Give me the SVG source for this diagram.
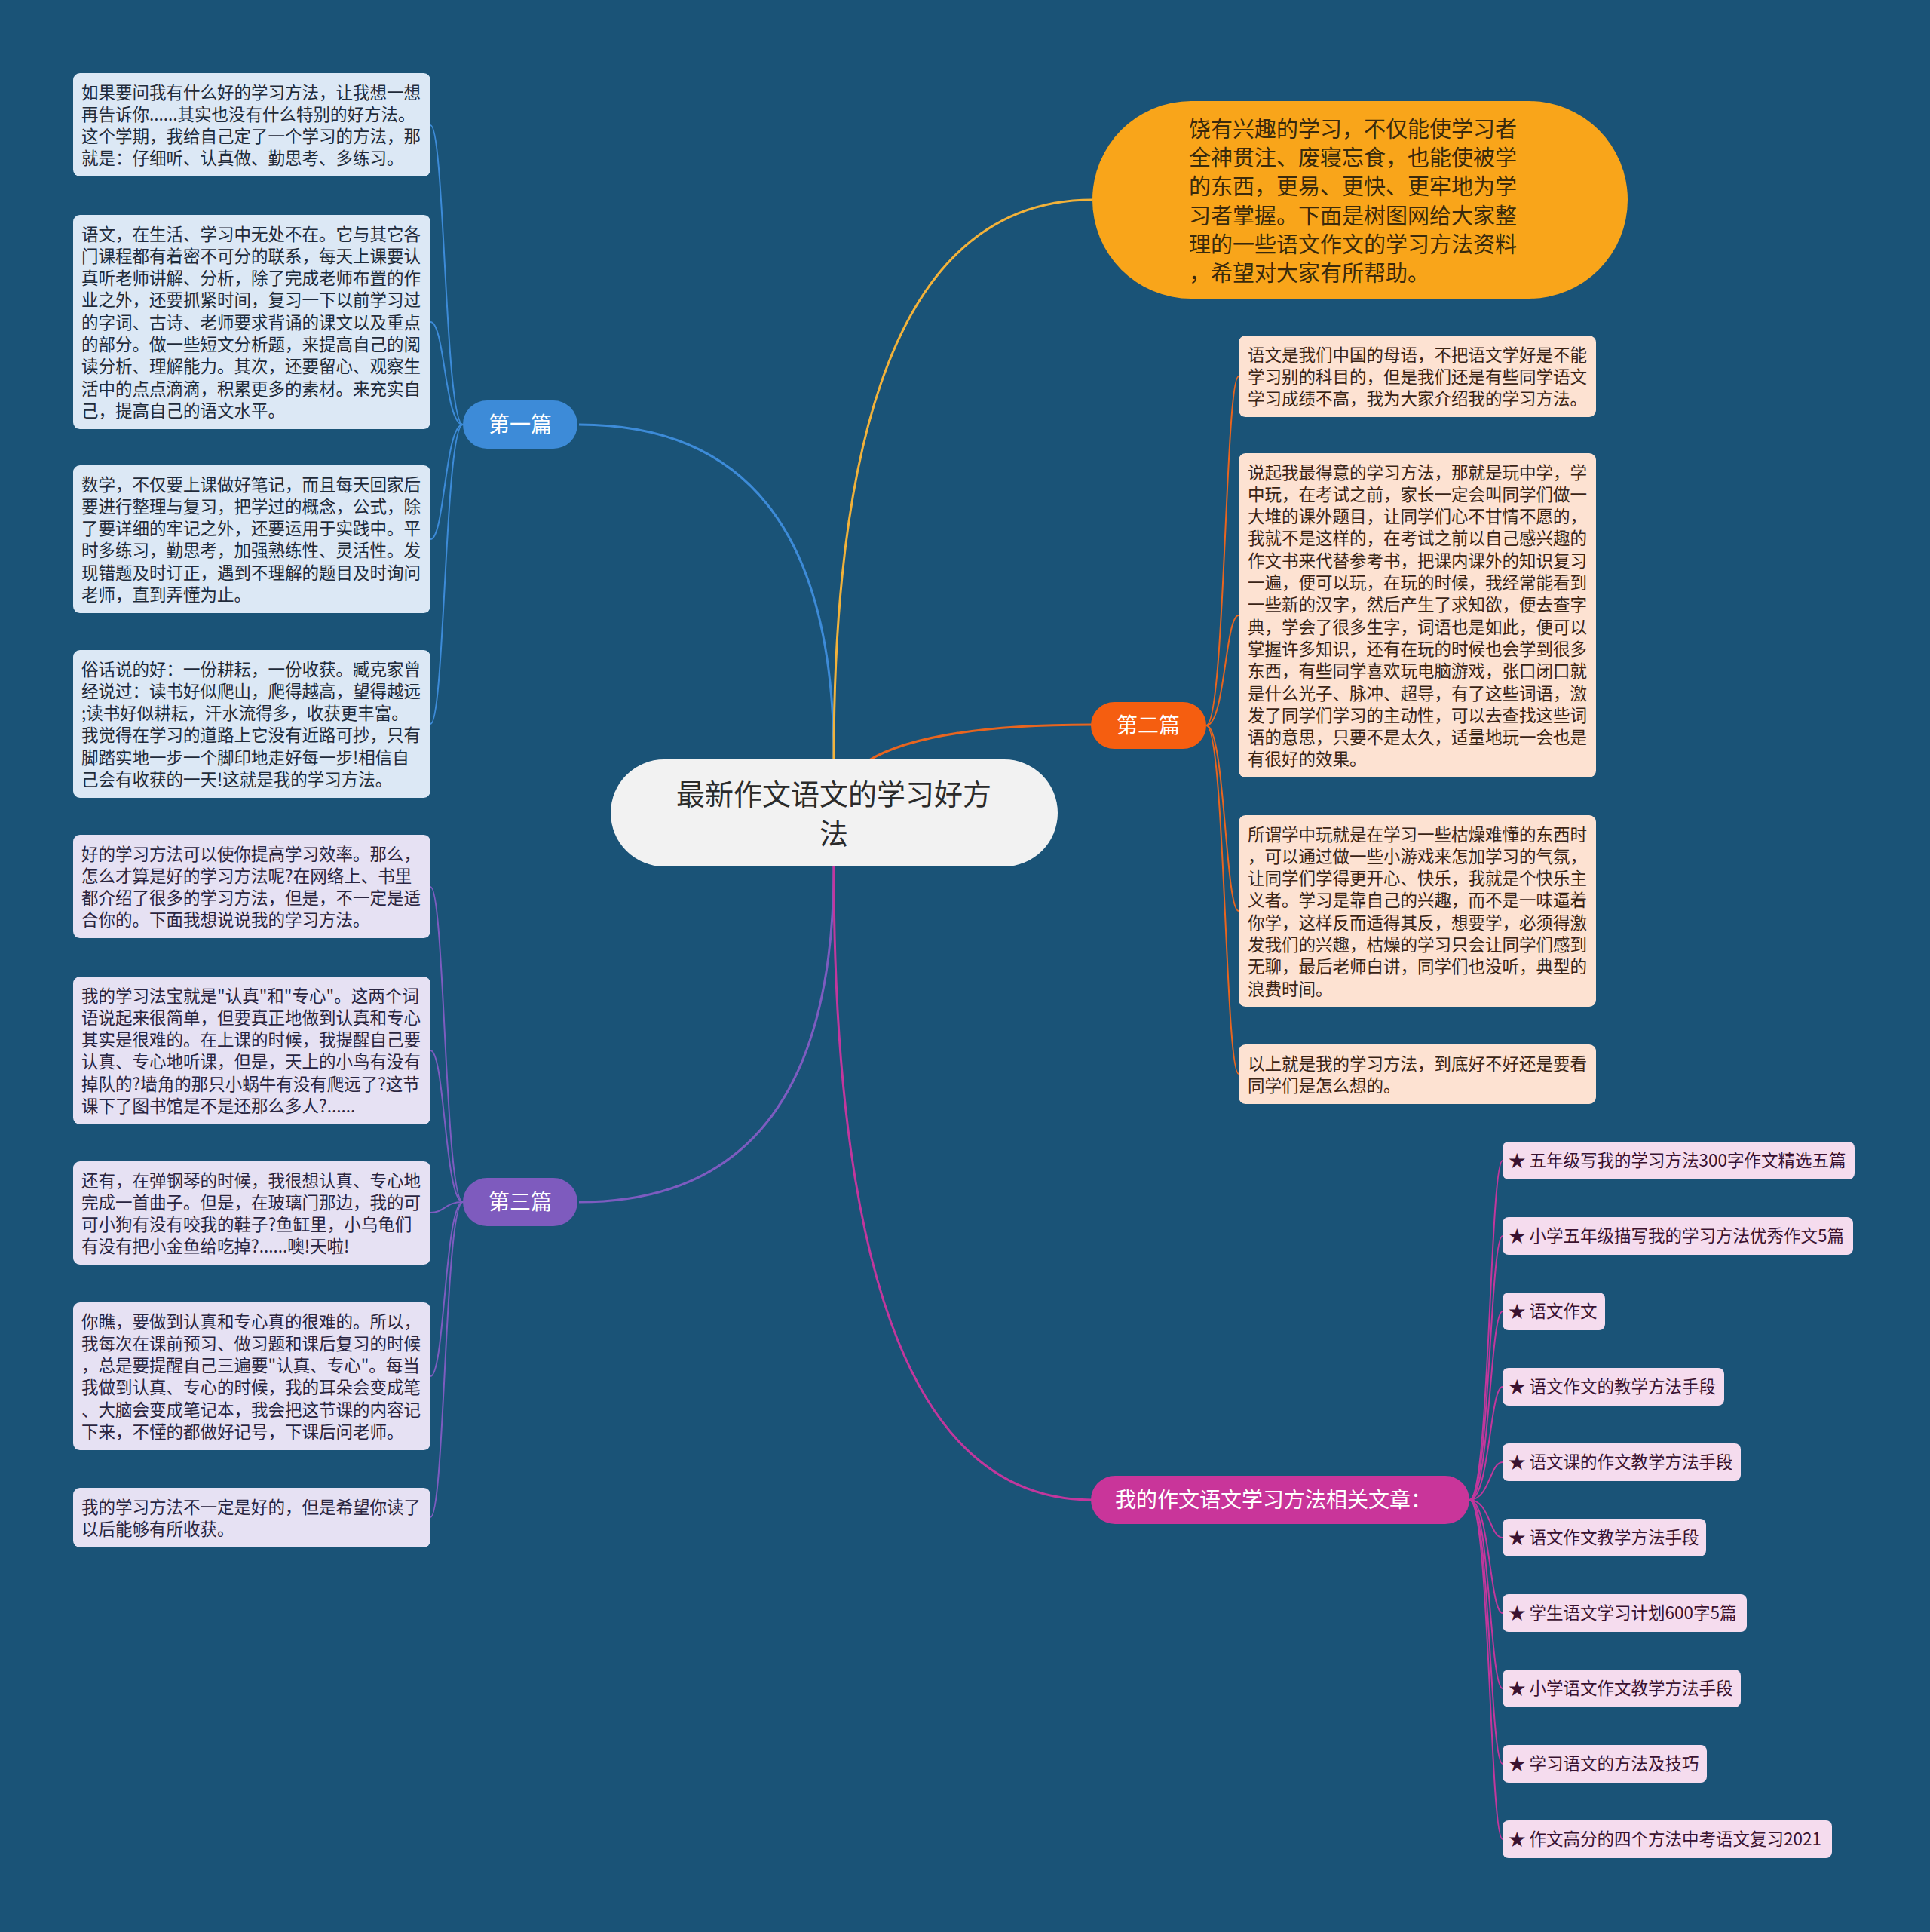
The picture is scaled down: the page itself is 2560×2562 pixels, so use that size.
<svg xmlns="http://www.w3.org/2000/svg" width="2560" height="2562" viewBox="0 0 2560 2562">
<style>
text{font-family:"Noto Sans CJK SC","Noto Sans",sans-serif;}
.bx{font-size:22.5px;}
.blue rect{fill:#DCE8F5;}
.blue text{fill:#1F2B3A;}
.lav rect{fill:#E6E1F3;}
.lav text{fill:#2A2540;}
.pea rect{fill:#FDE2D2;}
.pea text{fill:#3A2415;}
.itm rect{fill:#F5DCEE;}
.itm text{fill:#3A1230;font-size:22.5px;}
.sh{fill:#123F5E;}
.lbl{font-size:28px;fill:#FFFFFF;}
.cn path{fill:none;}
</style>
<rect x="0" y="0" width="2560" height="2562" fill="#1A5377"/>

<g id="connectors" class="cn">
  <path d="M1106,1006 Q1106,563 768,563" stroke="#3D8BD8" stroke-width="3"/>
  <path d="M1106,1006 Q1106,265 1449,265" stroke="#F2B23A" stroke-width="3"/>
  <path d="M1151,1009 Q1230,961 1448,961" stroke="#E8651F" stroke-width="3"/>
  <path d="M1106,1149 Q1106,1594 768,1594" stroke="#7D5CC0" stroke-width="3"/>
  <path d="M1106,1149 Q1106,1989 1448,1989" stroke="#C2379D" stroke-width="3"/>

  <g stroke="#3D8BD8" stroke-width="2">
    <path d="M614,563 C590,563 590,166 571,166"/>
    <path d="M614,563 C590,563 590,427 571,427"/>
    <path d="M614,563 C590,563 590,715 571,715"/>
    <path d="M614,563 C590,563 590,960 571,960"/>
  </g>
  <g stroke="#7D5CC0" stroke-width="2">
    <path d="M614,1594 C590,1594 590,1176 571,1176"/>
    <path d="M614,1594 C590,1594 590,1393 571,1393"/>
    <path d="M614,1594 C590,1594 590,1608 571,1608"/>
    <path d="M614,1594 C590,1594 590,1825 571,1825"/>
    <path d="M614,1594 C590,1594 590,2012 571,2012"/>
  </g>
  <g stroke="#E8651F" stroke-width="2">
    <path d="M1600,962 C1625,962 1625,499 1643,499"/>
    <path d="M1600,962 C1625,962 1625,816 1643,816"/>
    <path d="M1600,962 C1625,962 1625,1208 1643,1208"/>
    <path d="M1600,962 C1625,962 1625,1424 1643,1424"/>
  </g>
  <g stroke="#C2379D" stroke-width="2">
    <path d="M1949,1989 C1976,1989 1976,1539 1993,1539"/>
    <path d="M1949,1989 C1976,1989 1976,1639 1993,1639"/>
    <path d="M1949,1989 C1976,1989 1976,1739 1993,1739"/>
    <path d="M1949,1989 C1976,1989 1976,1839 1993,1839"/>
    <path d="M1949,1989 C1976,1989 1976,1939 1993,1939"/>
    <path d="M1949,1989 C1976,1989 1976,2039 1993,2039"/>
    <path d="M1949,1989 C1976,1989 1976,2139 1993,2139"/>
    <path d="M1949,1989 C1976,1989 1976,2239 1993,2239"/>
    <path d="M1949,1989 C1976,1989 1976,2339 1993,2339"/>
    <path d="M1949,1989 C1976,1989 1976,2439 1993,2439"/>
  </g>
</g>

<g id="central">
  <rect x="810" y="1007" width="593" height="142" rx="71" fill="#F2F2F2"/>
  <text x="1106" y="1067" text-anchor="middle" font-size="38" fill="#2B2B2B">最新作文语文的学习好方</text>
  <text x="1106" y="1119" text-anchor="middle" font-size="38" fill="#2B2B2B">法</text>
</g>

<g id="intro">
  <rect x="1449" y="134" width="710" height="262" rx="131" fill="#F9A51A"/>
  <text font-size="29" fill="#3A2A0C">
    <tspan x="1577" y="182">饶有兴趣的学习，不仅能使学习者</tspan>
    <tspan x="1577" y="220">全神贯注、废寝忘食，也能使被学</tspan>
    <tspan x="1577" y="258">的东西，更易、更快、更牢地为学</tspan>
    <tspan x="1577" y="297">习者掌握。下面是树图网给大家整</tspan>
    <tspan x="1577" y="335">理的一些语文作文的学习方法资料</tspan>
    <tspan x="1577" y="373">，希望对大家有所帮助。</tspan>
  </text>
</g>

<g id="b1">
  <rect x="614" y="531" width="152" height="64" rx="32" fill="#3D8BD8"/>
  <text class="lbl" x="690" y="573" text-anchor="middle">第一篇</text>
</g>
<g id="b2">
  <rect x="1447" y="931" width="153" height="62" rx="31" fill="#F55E10"/>
  <text class="lbl" x="1523" y="972" text-anchor="middle">第二篇</text>
</g>
<g id="b3">
  <rect x="614" y="1562" width="152" height="64" rx="32" fill="#7E5BBE"/>
  <text class="lbl" x="690" y="1604" text-anchor="middle">第三篇</text>
</g>
<g id="b4">
  <rect x="1447" y="1957" width="502" height="64" rx="32" fill="#C9359A"/>
  <text class="lbl" x="1479" y="1999">我的作文语文学习方法相关文章：</text>
</g>

<g id="b1c1" class="blue">
  <rect x="97" y="97" width="474" height="137" rx="9"/>
  <text class="bx"><tspan x="108" y="130.5">如果要问我有什么好的学习方法，让我想一想</tspan><tspan x="108" dy="29.3">再告诉你......其实也没有什么特别的好方法。</tspan><tspan x="108" dy="29.3">这个学期，我给自己定了一个学习的方法，那</tspan><tspan x="108" dy="29.3">就是：仔细听、认真做、勤思考、多练习。</tspan></text>
</g>
<g id="b1c2" class="blue">
  <rect x="97" y="285" width="474" height="284" rx="9"/>
  <text class="bx"><tspan x="108" y="318.5">语文，在生活、学习中无处不在。它与其它各</tspan><tspan x="108" dy="29.3">门课程都有着密不可分的联系，每天上课要认</tspan><tspan x="108" dy="29.3">真听老师讲解、分析，除了完成老师布置的作</tspan><tspan x="108" dy="29.3">业之外，还要抓紧时间，复习一下以前学习过</tspan><tspan x="108" dy="29.3">的字词、古诗、老师要求背诵的课文以及重点</tspan><tspan x="108" dy="29.3">的部分。做一些短文分析题，来提高自己的阅</tspan><tspan x="108" dy="29.3">读分析、理解能力。其次，还要留心、观察生</tspan><tspan x="108" dy="29.3">活中的点点滴滴，积累更多的素材。来充实自</tspan><tspan x="108" dy="29.3">己，提高自己的语文水平。</tspan></text>
</g>
<g id="b1c3" class="blue">
  <rect x="97" y="617" width="474" height="196" rx="9"/>
  <text class="bx"><tspan x="108" y="650.5">数学，不仅要上课做好笔记，而且每天回家后</tspan><tspan x="108" dy="29.3">要进行整理与复习，把学过的概念，公式，除</tspan><tspan x="108" dy="29.3">了要详细的牢记之外，还要运用于实践中。平</tspan><tspan x="108" dy="29.3">时多练习，勤思考，加强熟练性、灵活性。发</tspan><tspan x="108" dy="29.3">现错题及时订正，遇到不理解的题目及时询问</tspan><tspan x="108" dy="29.3">老师，直到弄懂为止。</tspan></text>
</g>
<g id="b1c4" class="blue">
  <rect x="97" y="862" width="474" height="196" rx="9"/>
  <text class="bx"><tspan x="108" y="895.5">俗话说的好：一份耕耘，一份收获。臧克家曾</tspan><tspan x="108" dy="29.3">经说过：读书好似爬山，爬得越高，望得越远</tspan><tspan x="108" dy="29.3">;读书好似耕耘，汗水流得多，收获更丰富。</tspan><tspan x="108" dy="29.3">我觉得在学习的道路上它没有近路可抄，只有</tspan><tspan x="108" dy="29.3">脚踏实地一步一个脚印地走好每一步!相信自</tspan><tspan x="108" dy="29.3">己会有收获的一天!这就是我的学习方法。</tspan></text>
</g>

<g id="b3c1" class="lav">
  <rect x="97" y="1107" width="474" height="137" rx="9"/>
  <text class="bx"><tspan x="108" y="1140.5">好的学习方法可以使你提高学习效率。那么，</tspan><tspan x="108" dy="29.3">怎么才算是好的学习方法呢?在网络上、书里</tspan><tspan x="108" dy="29.3">都介绍了很多的学习方法，但是，不一定是适</tspan><tspan x="108" dy="29.3">合你的。下面我想说说我的学习方法。</tspan></text>
</g>
<g id="b3c2" class="lav">
  <rect x="97" y="1295" width="474" height="196" rx="9"/>
  <text class="bx"><tspan x="108" y="1328.5">我的学习法宝就是"认真"和"专心"。这两个词</tspan><tspan x="108" dy="29.3">语说起来很简单，但要真正地做到认真和专心</tspan><tspan x="108" dy="29.3">其实是很难的。在上课的时候，我提醒自己要</tspan><tspan x="108" dy="29.3">认真、专心地听课，但是，天上的小鸟有没有</tspan><tspan x="108" dy="29.3">掉队的?墙角的那只小蜗牛有没有爬远了?这节</tspan><tspan x="108" dy="29.3">课下了图书馆是不是还那么多人?......</tspan></text>
</g>
<g id="b3c3" class="lav">
  <rect x="97" y="1540" width="474" height="137" rx="9"/>
  <text class="bx"><tspan x="108" y="1573.5">还有，在弹钢琴的时候，我很想认真、专心地</tspan><tspan x="108" dy="29.3">完成一首曲子。但是，在玻璃门那边，我的可</tspan><tspan x="108" dy="29.3">可小狗有没有咬我的鞋子?鱼缸里，小乌龟们</tspan><tspan x="108" dy="29.3">有没有把小金鱼给吃掉?......噢!天啦!</tspan></text>
</g>
<g id="b3c4" class="lav">
  <rect x="97" y="1727" width="474" height="196" rx="9"/>
  <text class="bx"><tspan x="108" y="1760.5">你瞧，要做到认真和专心真的很难的。所以，</tspan><tspan x="108" dy="29.3">我每次在课前预习、做习题和课后复习的时候</tspan><tspan x="108" dy="29.3">，总是要提醒自己三遍要"认真、专心"。每当</tspan><tspan x="108" dy="29.3">我做到认真、专心的时候，我的耳朵会变成笔</tspan><tspan x="108" dy="29.3">、大脑会变成笔记本，我会把这节课的内容记</tspan><tspan x="108" dy="29.3">下来，不懂的都做好记号，下课后问老师。</tspan></text>
</g>
<g id="b3c5" class="lav">
  <rect x="97" y="1973" width="474" height="79" rx="9"/>
  <text class="bx"><tspan x="108" y="2006.5">我的学习方法不一定是好的，但是希望你读了</tspan><tspan x="108" dy="29.3">以后能够有所收获。</tspan></text>
</g>

<g id="b2c1" class="pea">
  <rect x="1643" y="445" width="474" height="108" rx="9"/>
  <text class="bx"><tspan x="1655" y="478.5">语文是我们中国的母语，不把语文学好是不能</tspan><tspan x="1655" dy="29.3">学习别的科目的，但是我们还是有些同学语文</tspan><tspan x="1655" dy="29.3">学习成绩不高，我为大家介绍我的学习方法。</tspan></text>
</g>
<g id="b2c2" class="pea">
  <rect x="1643" y="601" width="474" height="430" rx="9"/>
  <text class="bx"><tspan x="1655" y="634.5">说起我最得意的学习方法，那就是玩中学，学</tspan><tspan x="1655" dy="29.3">中玩，在考试之前，家长一定会叫同学们做一</tspan><tspan x="1655" dy="29.3">大堆的课外题目，让同学们心不甘情不愿的，</tspan><tspan x="1655" dy="29.3">我就不是这样的，在考试之前以自己感兴趣的</tspan><tspan x="1655" dy="29.3">作文书来代替参考书，把课内课外的知识复习</tspan><tspan x="1655" dy="29.3">一遍，便可以玩，在玩的时候，我经常能看到</tspan><tspan x="1655" dy="29.3">一些新的汉字，然后产生了求知欲，便去查字</tspan><tspan x="1655" dy="29.3">典，学会了很多生字，词语也是如此，便可以</tspan><tspan x="1655" dy="29.3">掌握许多知识，还有在玩的时候也会学到很多</tspan><tspan x="1655" dy="29.3">东西，有些同学喜欢玩电脑游戏，张口闭口就</tspan><tspan x="1655" dy="29.3">是什么光子、脉冲、超导，有了这些词语，激</tspan><tspan x="1655" dy="29.3">发了同学们学习的主动性，可以去查找这些词</tspan><tspan x="1655" dy="29.3">语的意思，只要不是太久，适量地玩一会也是</tspan><tspan x="1655" dy="29.3">有很好的效果。</tspan></text>
</g>
<g id="b2c3" class="pea">
  <rect x="1643" y="1081" width="474" height="254" rx="9"/>
  <text class="bx"><tspan x="1655" y="1114.5">所谓学中玩就是在学习一些枯燥难懂的东西时</tspan><tspan x="1655" dy="29.3">，可以通过做一些小游戏来怎加学习的气氛，</tspan><tspan x="1655" dy="29.3">让同学们学得更开心、快乐，我就是个快乐主</tspan><tspan x="1655" dy="29.3">义者。学习是靠自己的兴趣，而不是一味逼着</tspan><tspan x="1655" dy="29.3">你学，这样反而适得其反，想要学，必须得激</tspan><tspan x="1655" dy="29.3">发我们的兴趣，枯燥的学习只会让同学们感到</tspan><tspan x="1655" dy="29.3">无聊，最后老师白讲，同学们也没听，典型的</tspan><tspan x="1655" dy="29.3">浪费时间。</tspan></text>
</g>
<g id="b2c4" class="pea">
  <rect x="1643" y="1385" width="474" height="79" rx="9"/>
  <text class="bx"><tspan x="1655" y="1418.5">以上就是我的学习方法，到底好不好还是要看</tspan><tspan x="1655" dy="29.3">同学们是怎么想的。</tspan></text>
</g>

<g id="i1" class="itm"><rect x="1993" y="1514" width="467" height="50" rx="8"/><text x="2001" y="1547">★ 五年级写我的学习方法300字作文精选五篇</text></g>
<g id="i2" class="itm"><rect x="1993" y="1614" width="465" height="50" rx="8"/><text x="2001" y="1647">★ 小学五年级描写我的学习方法优秀作文5篇</text></g>
<g id="i3" class="itm"><rect x="1993" y="1714" width="136" height="50" rx="8"/><text x="2001" y="1747">★ 语文作文</text></g>
<g id="i4" class="itm"><rect x="1993" y="1814" width="294" height="50" rx="8"/><text x="2001" y="1847">★ 语文作文的教学方法手段</text></g>
<g id="i5" class="itm"><rect x="1993" y="1914" width="316" height="50" rx="8"/><text x="2001" y="1947">★ 语文课的作文教学方法手段</text></g>
<g id="i6" class="itm"><rect x="1993" y="2014" width="270" height="50" rx="8"/><text x="2001" y="2047">★ 语文作文教学方法手段</text></g>
<g id="i7" class="itm"><rect x="1993" y="2114" width="324" height="50" rx="8"/><text x="2001" y="2147">★ 学生语文学习计划600字5篇</text></g>
<g id="i8" class="itm"><rect x="1993" y="2214" width="316" height="50" rx="8"/><text x="2001" y="2247">★ 小学语文作文教学方法手段</text></g>
<g id="i9" class="itm"><rect x="1993" y="2314" width="271" height="50" rx="8"/><text x="2001" y="2347">★ 学习语文的方法及技巧</text></g>
<g id="i10" class="itm"><rect x="1993" y="2414" width="437" height="50" rx="8"/><text x="2001" y="2447">★ 作文高分的四个方法中考语文复习2021</text></g>
</svg>
